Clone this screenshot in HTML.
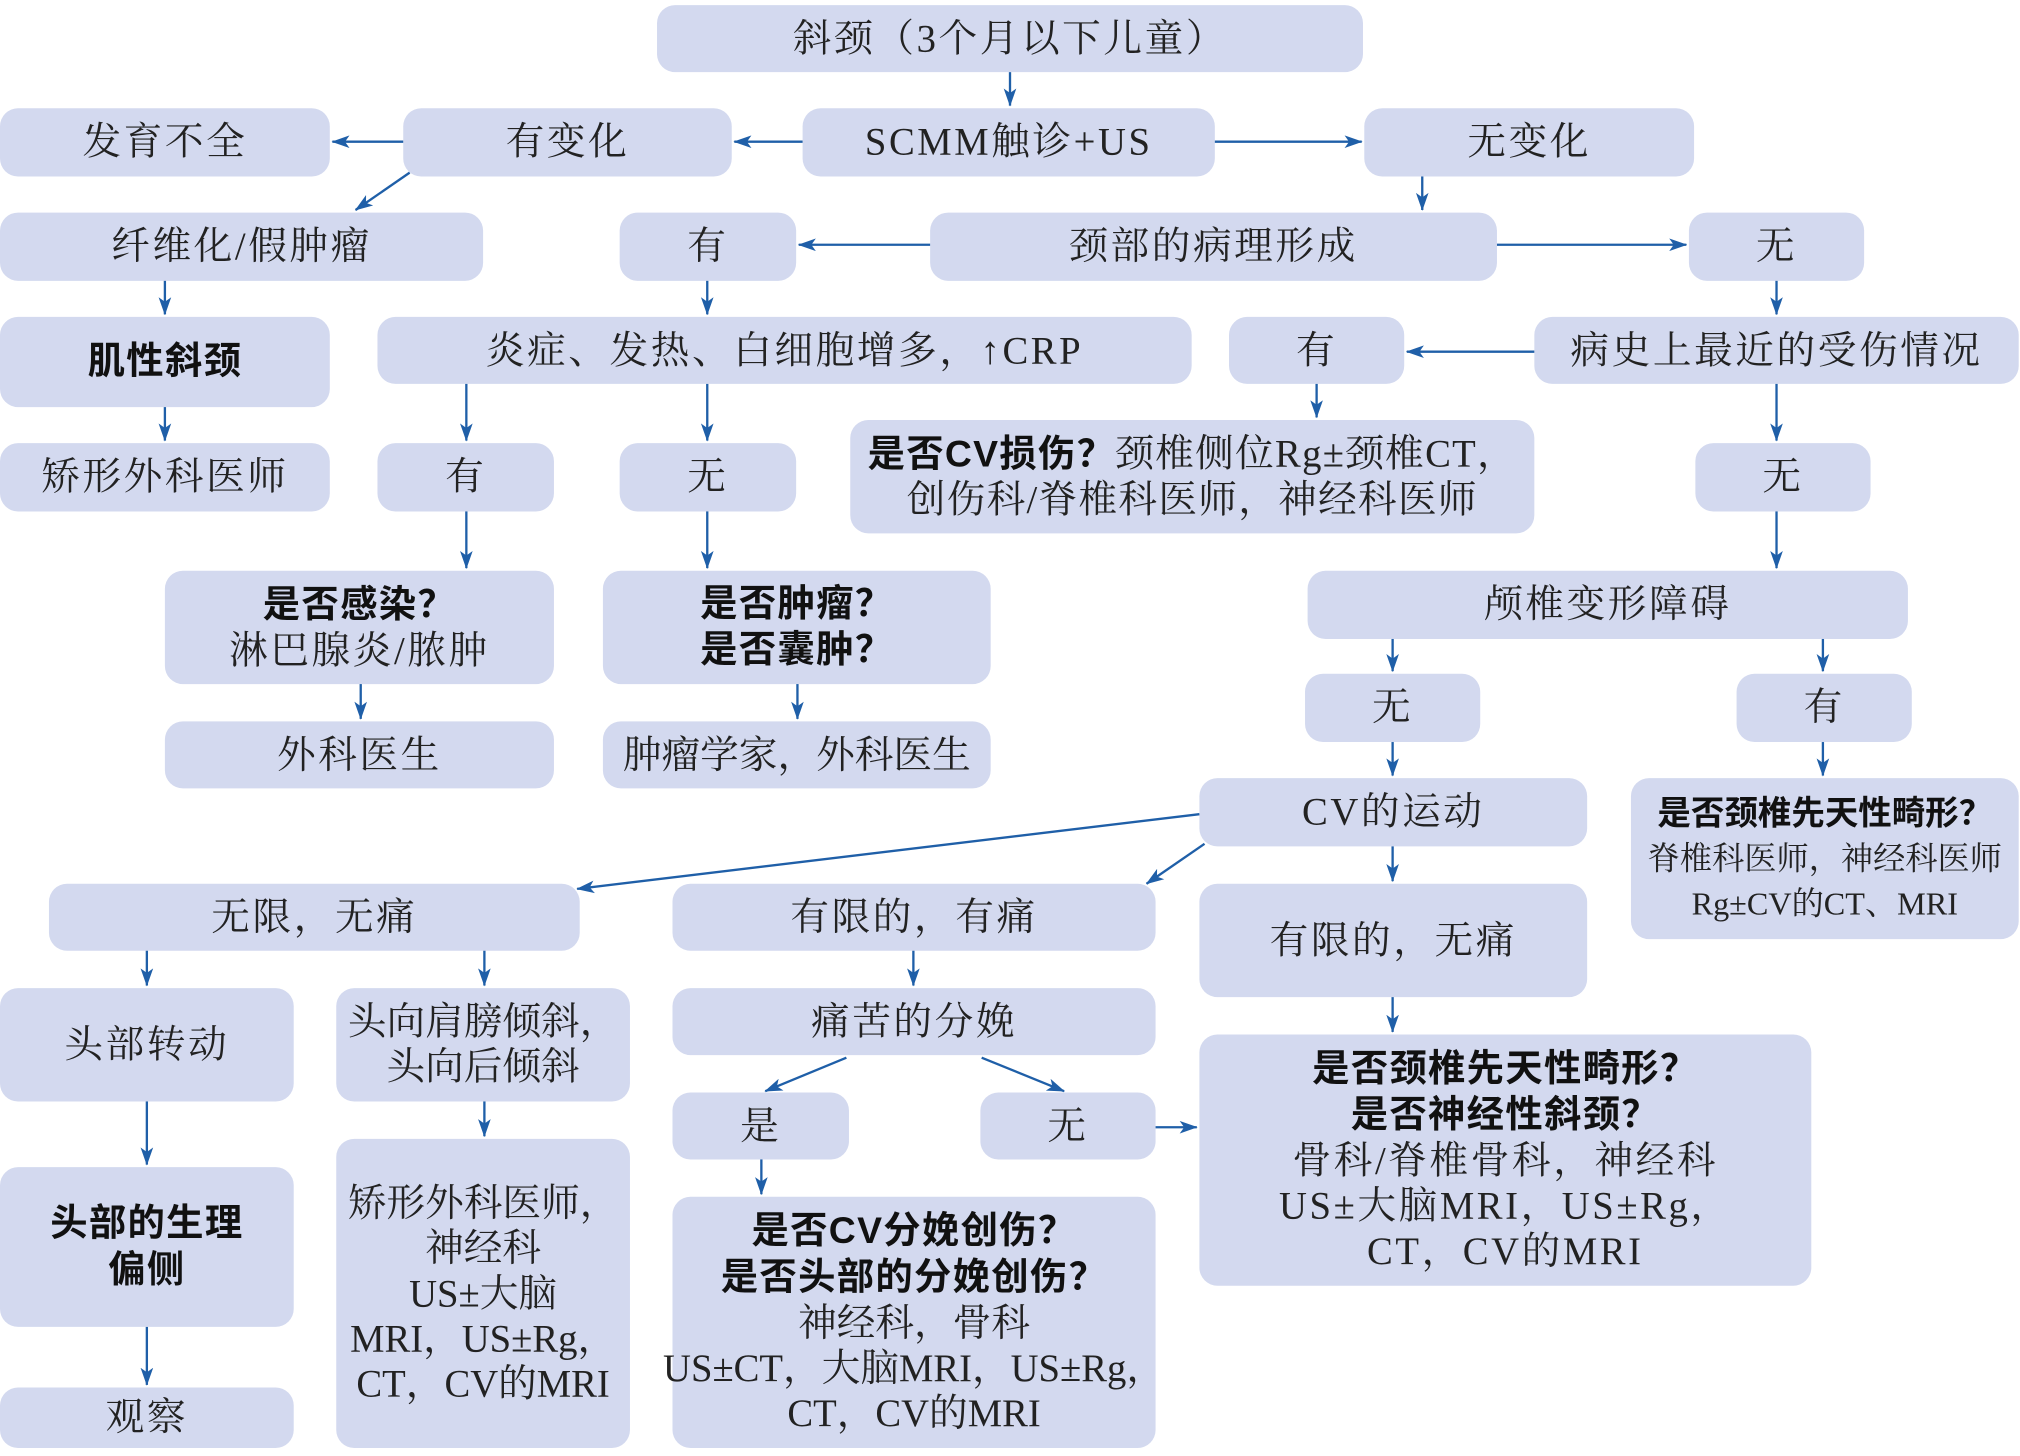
<!DOCTYPE html>
<html><head><meta charset="utf-8">
<style>
html,body{margin:0;padding:0;background:#fff;width:2020px;height:1455px;overflow:hidden;}
#c{position:absolute;left:0;top:0;width:1568px;height:1130px;transform:scale(1.28827);transform-origin:0 0;}
.b{position:absolute;background:#d3d9ef;border-radius:14px;display:flex;align-items:center;justify-content:center;text-align:center;
font-family:"Liberation Serif","Noto Serif CJK SC",serif;font-size:30px;letter-spacing:2px;color:#222;line-height:35px;white-space:nowrap;}
.b b{font-family:"Liberation Sans","Noto Sans CJK SC",sans-serif;font-weight:bold;color:#111;font-size:29px;letter-spacing:1px;}
.s{font-size:25px;letter-spacing:0;}
.s b{font-size:26px;letter-spacing:0;}
svg{position:absolute;left:0;top:0;}
</style></head><body><div id="c">
<div class="b" style="left:510px;top:4px;width:548px;height:52px">斜颈（3个月以下儿童）</div>
<div class="b" style="left:0px;top:84px;width:256px;height:53px">发育不全</div>
<div class="b" style="left:313px;top:84px;width:255px;height:53px">有变化</div>
<div class="b" style="left:623px;top:84px;width:320px;height:53px">SCMM触诊+US</div>
<div class="b" style="left:1059px;top:84px;width:256px;height:53px">无变化</div>
<div class="b" style="left:0px;top:165px;width:375px;height:53px">纤维化/假肿瘤</div>
<div class="b" style="left:481px;top:165px;width:137px;height:53px">有</div>
<div class="b" style="left:722px;top:165px;width:440px;height:53px">颈部的病理形成</div>
<div class="b" style="left:1311px;top:165px;width:136px;height:53px">无</div>
<div class="b" style="left:0px;top:246px;width:256px;height:70px"><b>肌性斜颈</b></div>
<div class="b" style="left:293px;top:246px;width:632px;height:52px">炎症、发热、白细胞增多，↑CRP</div>
<div class="b" style="left:954px;top:246px;width:136px;height:52px">有</div>
<div class="b" style="left:1191px;top:246px;width:376px;height:52px">病史上最近的受伤情况</div>
<div class="b" style="left:0px;top:344px;width:256px;height:53px">矫形外科医师</div>
<div class="b" style="left:293px;top:344px;width:137px;height:53px">有</div>
<div class="b" style="left:481px;top:344px;width:137px;height:53px">无</div>
<div class="b" style="left:660px;top:326px;width:531px;height:88px;letter-spacing:1px"><div><b>是否CV损伤？</b>颈椎侧位Rg±颈椎CT，<br>创伤科/脊椎科医师，神经科医师</div></div>
<div class="b" style="left:1316px;top:344px;width:136px;height:53px">无</div>
<div class="b" style="left:128px;top:443px;width:302px;height:88px"><div><b>是否感染？</b><br>淋巴腺炎/脓肿</div></div>
<div class="b" style="left:468px;top:443px;width:301px;height:88px"><div><b>是否肿瘤？<br>是否囊肿？</b></div></div>
<div class="b" style="left:1015px;top:443px;width:466px;height:53px">颅椎变形障碍</div>
<div class="b" style="left:128px;top:560px;width:302px;height:52px">外科医生</div>
<div class="b" style="left:468px;top:560px;width:301px;height:52px;letter-spacing:0">肿瘤学家，外科医生</div>
<div class="b" style="left:1013px;top:523px;width:136px;height:53px">无</div>
<div class="b" style="left:1348px;top:523px;width:136px;height:53px">有</div>
<div class="b" style="left:931px;top:604px;width:301px;height:53px">CV的运动</div>
<div class="b s" style="left:1266px;top:604px;width:301px;height:125px"><div><b>是否颈椎先天性畸形？</b><br>脊椎科医师，神经科医师<br>Rg±CV的CT、MRI</div></div>
<div class="b" style="left:38px;top:686px;width:412px;height:52px">无限，无痛</div>
<div class="b" style="left:522px;top:686px;width:375px;height:52px">有限的，有痛</div>
<div class="b" style="left:931px;top:686px;width:301px;height:88px">有限的，无痛</div>
<div class="b" style="left:0px;top:767px;width:228px;height:88px">头部转动</div>
<div class="b" style="left:261px;top:767px;width:228px;height:88px;letter-spacing:0"><div>头向肩膀倾斜，<br>头向后倾斜</div></div>
<div class="b" style="left:522px;top:767px;width:375px;height:52px">痛苦的分娩</div>
<div class="b" style="left:522px;top:848px;width:137px;height:52px">是</div>
<div class="b" style="left:761px;top:848px;width:136px;height:52px">无</div>
<div class="b" style="left:931px;top:803px;width:475px;height:195px"><div><b>是否颈椎先天性畸形？<br>是否神经性斜颈？</b><br>骨科/脊椎骨科，神经科<br>US±大脑MRI，US±Rg，<br>CT，CV的MRI</div></div>
<div class="b" style="left:0px;top:906px;width:228px;height:124px"><div><b>头部的生理<br>偏侧</b></div></div>
<div class="b" style="left:261px;top:884px;width:228px;height:240px;letter-spacing:0"><div>矫形外科医师，<br>神经科<br>US±大脑<br>MRI，US±Rg，<br>CT，CV的MRI</div></div>
<div class="b" style="left:522px;top:929px;width:375px;height:195px;letter-spacing:0"><div><b>是否CV分娩创伤？<br>是否头部的分娩创伤？</b><br>神经科，骨科<br>US±CT，大脑MRI，US±Rg，<br>CT，CV的MRI</div></div>
<div class="b" style="left:0px;top:1077px;width:228px;height:47px">观察</div>
<svg width="1568" height="1130" viewBox="0 0 1568 1130">
<defs><marker id="a" viewBox="0 0 20 14" refX="19" refY="7" markerWidth="14" markerHeight="10" markerUnits="userSpaceOnUse" orient="auto"><path d="M0,0 L20,7 L0,14 L5,7 Z" fill="#1f5fa8"/></marker></defs>
<g stroke="#1f5fa8" stroke-width="1.8" fill="none" marker-end="url(#a)">
<line x1="784" y1="56" x2="784" y2="82"/>
<line x1="623" y1="110" x2="570" y2="110"/>
<line x1="313" y1="110" x2="258" y2="110"/>
<line x1="943" y1="110" x2="1057" y2="110"/>
<line x1="318" y1="134" x2="276" y2="163"/>
<line x1="1104" y1="137" x2="1104" y2="163"/>
<line x1="722" y1="190" x2="620" y2="190"/>
<line x1="1162" y1="190" x2="1309" y2="190"/>
<line x1="128" y1="218" x2="128" y2="244"/>
<line x1="549" y1="218" x2="549" y2="244"/>
<line x1="1379" y1="218" x2="1379" y2="244"/>
<line x1="1191" y1="273" x2="1092" y2="273"/>
<line x1="128" y1="316" x2="128" y2="342"/>
<line x1="362" y1="298" x2="362" y2="342"/>
<line x1="549" y1="298" x2="549" y2="342"/>
<line x1="1022" y1="298" x2="1022" y2="324"/>
<line x1="1379" y1="298" x2="1379" y2="342"/>
<line x1="362" y1="397" x2="362" y2="441"/>
<line x1="549" y1="397" x2="549" y2="441"/>
<line x1="1379" y1="397" x2="1379" y2="441"/>
<line x1="280" y1="531" x2="280" y2="558"/>
<line x1="619" y1="531" x2="619" y2="558"/>
<line x1="1081" y1="496" x2="1081" y2="521"/>
<line x1="1415" y1="496" x2="1415" y2="521"/>
<line x1="1081" y1="576" x2="1081" y2="602"/>
<line x1="1415" y1="576" x2="1415" y2="602"/>
<line x1="931" y1="632" x2="448" y2="690"/>
<line x1="935" y1="655" x2="890" y2="686"/>
<line x1="1081" y1="657" x2="1081" y2="684"/>
<line x1="114" y1="738" x2="114" y2="765"/>
<line x1="376" y1="738" x2="376" y2="765"/>
<line x1="709" y1="738" x2="709" y2="765"/>
<line x1="1081" y1="774" x2="1081" y2="801"/>
<line x1="114" y1="855" x2="114" y2="904"/>
<line x1="376" y1="855" x2="376" y2="882"/>
<line x1="657" y1="821" x2="594" y2="847"/>
<line x1="762" y1="821" x2="826" y2="847"/>
<line x1="591" y1="900" x2="591" y2="927"/>
<line x1="897" y1="875" x2="929" y2="875"/>
<line x1="114" y1="1030" x2="114" y2="1075"/>
</g></svg>
</div></body></html>
